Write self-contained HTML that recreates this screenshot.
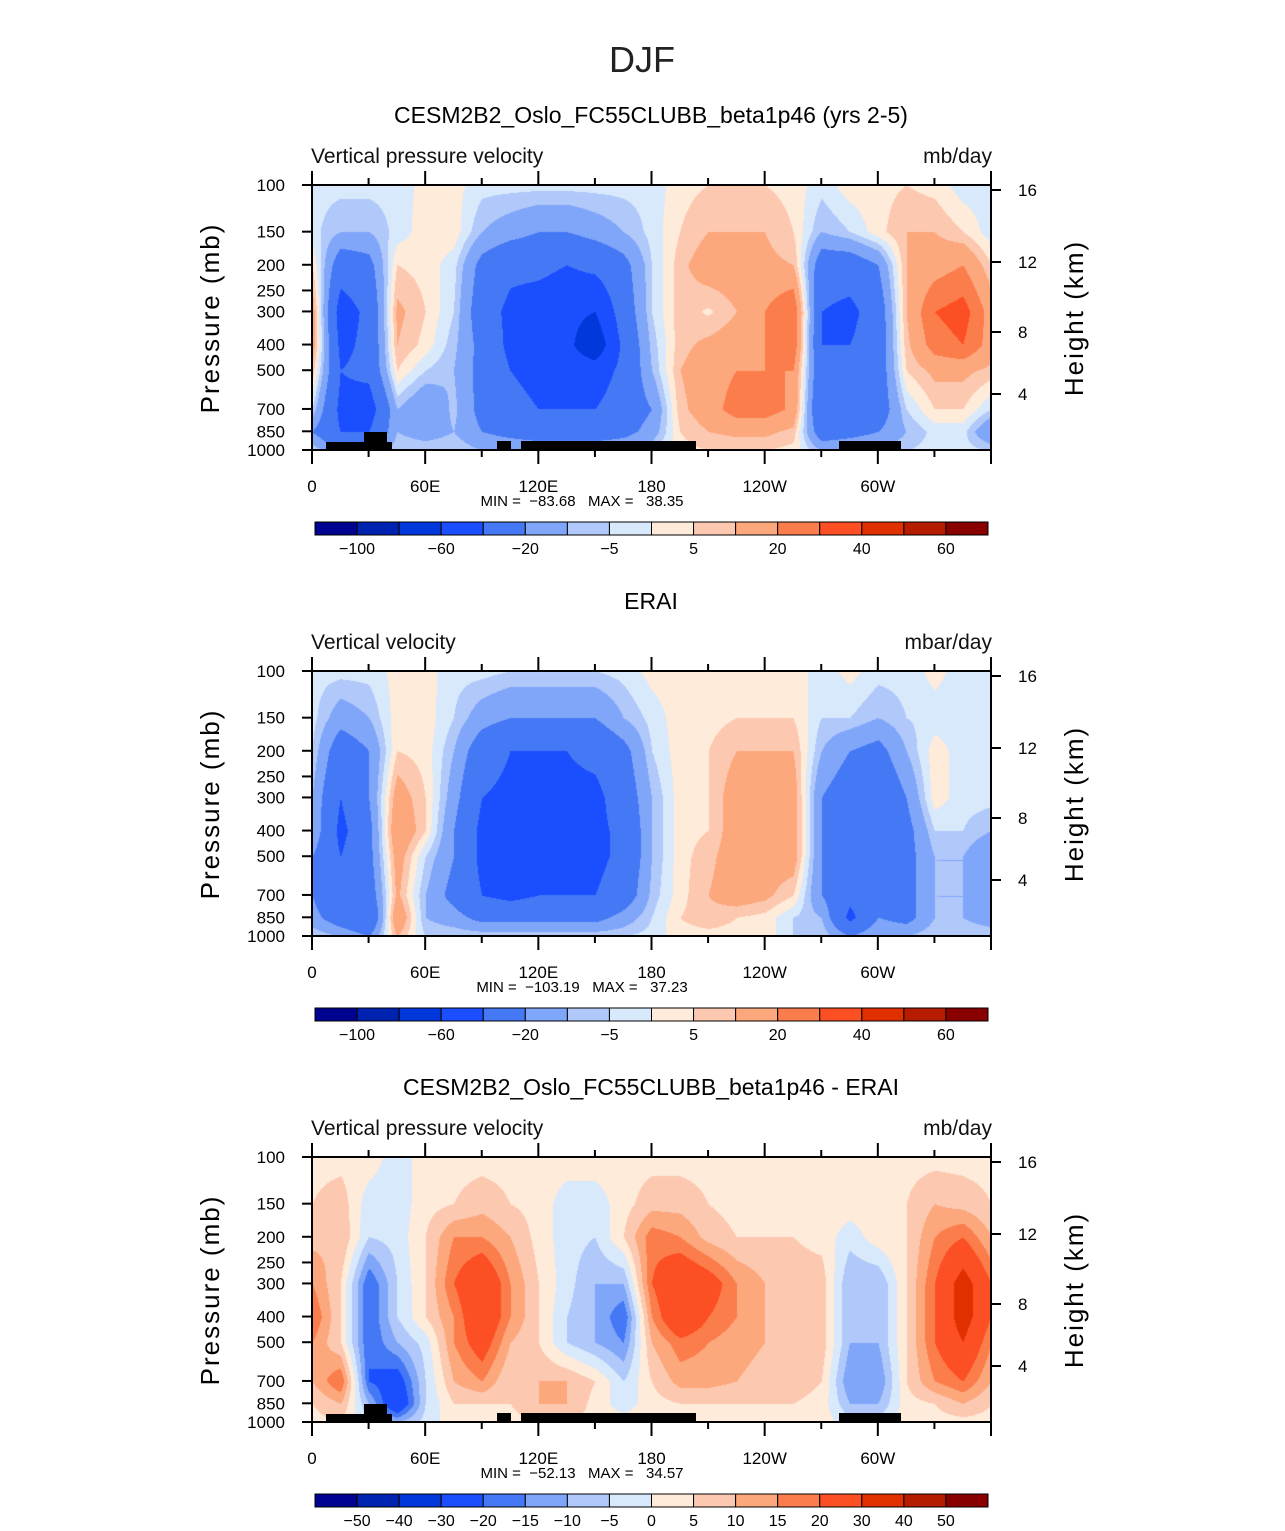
<!DOCTYPE html>
<html><head><meta charset="utf-8">
<style>
body{margin:0;background:#fff;width:1285px;height:1531px;overflow:hidden;font-family:"Liberation Sans",sans-serif}
#root{position:relative;width:1285px;height:1531px}
canvas{position:absolute}
svg{position:absolute;left:0;top:0}
text{white-space:pre}
</style></head>
<body><div id="root">
<canvas id="c0" width="679" height="265" style="left:312px;top:185px"></canvas>
<canvas id="c1" width="679" height="265" style="left:312px;top:671px"></canvas>
<canvas id="c2" width="679" height="265" style="left:312px;top:1157px"></canvas>
<svg id="svg" width="1285" height="1531"></svg>
</div>
<script>
const lons=[0,15,30,45,60,75,90,105,120,135,150,165,180,195,210,225,240,255,270,285,300,315,330,345,360];
const pressures=[100,150,200,300,400,500,700,850,1000];
const colors=["#00038f","#0022b0","#0038db","#1a4eff","#4578f5","#80a6fa","#b0c8fa","#d9e9fc","#ffebd9","#fdc8b0","#fca77c","#fc7d4c","#fc5024","#e03000","#b51c00","#880000"];
const levelsAbs=[-100,-80,-60,-40,-20,-10,-5,0,5,10,20,30,40,50,60];
const levelsDiff=[-50,-40,-30,-20,-15,-10,-5,0,5,10,15,20,30,40,50];
const labelsAbs=["−100","","−60","","−20","","−5","","5","","20","","40","","60"];
const labelsDiff=["−50","−40","−30","−20","−15","−10","−5","0","5","10","15","20","30","40","50"];
const model=[
[-3,-3,-3,-3,2,2,-3,-3,-3,-3,-3,-3,-3,3,5,5,5,3,-3,3,3,5,3,-3,-3],
[-3,-10,-10,-3,3,3,-10,-15,-20,-20,-15,-10,-3,5,10,10,10,5,-10,-5,3,10,10,5,-3],
[5,-30,-25,5,3,-3,-25,-35,-35,-40,-35,-25,-5,8,15,15,12,10,-30,-30,-20,10,15,20,5],
[15,-50,-35,12,5,-5,-30,-45,-50,-55,-60,-30,-5,8,4,10,20,30,-40,-45,-30,10,30,35,15],
[15,-45,-35,10,3,-8,-25,-45,-50,-55,-75,-35,-8,8,12,15,20,28,-40,-40,-30,8,25,30,15],
[8,-40,-35,5,-5,-10,-25,-40,-45,-50,-50,-35,-10,10,15,20,20,20,-35,-35,-30,5,12,12,8],
[-5,-45,-50,-10,-20,-8,-25,-35,-40,-40,-40,-30,-20,8,15,25,25,18,-40,-35,-30,-5,5,5,-5],
[-20,-40,-40,-10,-15,-10,-20,-25,-30,-30,-30,-25,-15,5,10,12,12,8,-30,-25,-20,-10,-3,-3,-20],
[-5,-20,-20,-5,-5,-5,-10,-10,-10,-10,-10,-10,-5,3,5,5,5,3,-10,-10,-10,-5,-3,-3,-5]];
const erai=[
[-3,-3,-3,2,2,-3,-3,-5,-5,-5,-5,-3,2,3,3,3,3,3,-3,2,-3,-3,2,-3,-3],
[-3,-15,-10,3,3,-5,-15,-20,-20,-20,-20,-10,-3,3,3,5,5,5,-5,-5,-10,-5,-3,-3,-3],
[-5,-30,-20,5,3,-10,-30,-40,-40,-40,-35,-25,-5,3,5,10,10,10,-10,-20,-25,-10,3,-3,-3],
[-10,-40,-20,15,5,-15,-40,-45,-45,-45,-45,-30,-10,3,5,15,15,15,-20,-30,-35,-20,3,-3,-3],
[-10,-45,-25,20,5,-20,-45,-50,-45,-50,-45,-35,-10,3,5,15,15,15,-20,-35,-35,-25,-5,-5,-10],
[-20,-40,-25,15,-5,-20,-45,-45,-45,-45,-45,-35,-10,3,8,15,15,15,-20,-30,-30,-25,-10,-10,-20],
[-20,-40,-30,12,-10,-25,-40,-45,-40,-40,-40,-30,-8,3,10,15,12,5,-20,-35,-30,-25,-10,-10,-20],
[-15,-30,-40,20,-10,-15,-25,-25,-25,-25,-25,-15,-5,5,8,5,3,-5,-10,-45,-20,-25,-10,-10,-15],
[-5,-10,-20,10,-5,-5,-5,-5,-5,-5,-5,-5,-3,3,3,3,3,-5,-5,-20,-10,-10,-5,-5,-5]];
const diff=[
[3,3,3,-3,3,3,3,3,3,3,3,3,3,3,3,3,3,3,3,3,3,3,3,3,3],
[5,8,-3,-3,3,5,8,5,3,-3,-3,3,8,8,5,3,3,3,3,3,3,5,10,8,5],
[8,10,-5,-3,5,15,15,10,3,-3,-5,5,18,15,8,5,5,5,3,-3,3,5,15,20,10],
[15,5,-20,-5,5,20,30,15,5,-3,-10,-10,20,30,25,15,10,8,8,-10,-10,5,20,35,20],
[20,5,-20,-5,5,15,30,15,5,-5,-10,-20,15,30,20,15,10,8,8,-10,-10,5,20,35,20],
[15,5,-20,-10,-3,15,25,10,5,-5,-10,-15,10,18,15,12,10,8,8,-10,-10,5,20,30,15],
[10,20,-20,-25,-5,10,15,5,10,10,5,-5,5,12,12,10,8,8,5,-15,-15,5,15,20,10],
[5,10,-10,-30,-5,5,5,5,10,10,3,-3,3,5,5,5,5,5,3,-10,-10,3,5,10,5],
[3,5,-5,-10,-3,3,3,3,5,5,3,3,3,3,3,3,3,3,3,-3,-3,3,3,3,3]];

const W=679,H=265,L=312;
const xOf=lon=>L+lon*W/360;
const yOf=(p,top)=>top+H*Math.log(p/100)/Math.LN10;
function hex(c){return [parseInt(c.substr(1,2),16),parseInt(c.substr(3,2),16),parseInt(c.substr(5,2),16)];}
const rgb=colors.map(hex);
function draw(id,field,levels){
  const ctx=document.getElementById(id).getContext('2d');
  const img=ctx.createImageData(W,H);
  const lp=pressures.map(p=>Math.log(p/100)/Math.LN10*H);
  for(let y=0;y<H;y++){
    let r=0;while(r<pressures.length-2&&lp[r+1]<y)r++;
    const ty=Math.min(1,Math.max(0,(y-lp[r])/(lp[r+1]-lp[r])));
    for(let x=0;x<W;x++){
      const lon=x*360/W;let c=Math.min(lons.length-2,Math.floor(lon/15));
      const tx=(lon-lons[c])/15;
      const v=(field[r][c]*(1-tx)+field[r][c+1]*tx)*(1-ty)+(field[r+1][c]*(1-tx)+field[r+1][c+1]*tx)*ty;
      let k=0;while(k<levels.length&&v>=levels[k])k++;
      const col=rgb[k],i=(y*W+x)*4;
      img.data[i]=col[0];img.data[i+1]=col[1];img.data[i+2]=col[2];img.data[i+3]=255;
    }
  }
  ctx.putImageData(img,0,0);
}
draw('c0',model,levelsAbs);draw('c1',erai,levelsAbs);draw('c2',diff,levelsDiff);

const svg=document.getElementById('svg');const NS='http://www.w3.org/2000/svg';
function el(tag,attrs,txt){const e=document.createElementNS(NS,tag);for(const k in attrs)e.setAttribute(k,attrs[k]);if(txt!==undefined)e.textContent=txt;svg.appendChild(e);return e;}
const t0=el('text',{x:642,y:72,'font-size':36,'text-anchor':'middle',fill:'#222'},'DJF');


const panels=[
 {top:185,title:'CESM2B2_Oslo_FC55CLUBB_beta1p46 (yrs 2-5)',left:'Vertical pressure velocity',right:'mb/day',mm:'MIN =  −83.68   MAX =   38.35',land:true,labels:labelsAbs},
 {top:671,title:'ERAI',left:'Vertical velocity',right:'mbar/day',mm:'MIN =  −103.19   MAX =   37.23',land:false,labels:labelsAbs},
 {top:1157,title:'CESM2B2_Oslo_FC55CLUBB_beta1p46 - ERAI',left:'Vertical pressure velocity',right:'mb/day',mm:'MIN =  −52.13   MAX =   34.57',land:true,labels:labelsDiff}];
const xlabels=['0','60E','120E','180','120W','60W'];
const plabels=[100,150,200,250,300,400,500,700,850,1000];
const hkm=[[16,190],[12,262],[8,332],[4,394]];
const landRects=[[326,442,66,8],[364,432,23,18],[497,441,14,9],[521,441,175,9],[839,441,62,9]];
panels.forEach((P,pi)=>{
  const T=P.top;
  let e=el('text',{x:651,y:T-62,'font-size':23,'text-anchor':'middle',fill:'#000'},P.title);
  
  
  e=el('text',{x:311,y:T-22,'font-size':21,fill:'#111'},P.left);
  
  
  e=el('text',{x:992,y:T-22,'font-size':21,'text-anchor':'end',fill:'#111'},P.right);
  
  
  if(P.land){landRects.forEach(r=>{const rr=el('rect',{x:r[0],y:r[1]-185+T,width:r[2],height:r[3],fill:'#000'});
    
    });}
  e=el('rect',{x:L,y:T,width:W,height:H,fill:'none',stroke:'#000','stroke-width':2});
  
  
  for(let lon=0;lon<=360;lon+=30){
    const x=xOf(lon),major=lon%60===0;
    el('line',{x1:x,x2:x,y1:T,y2:T-(major?14:7),stroke:'#000','stroke-width':2});
    el('line',{x1:x,x2:x,y1:T+H,y2:T+H+(major?14:7),stroke:'#000','stroke-width':2});
  }
  xlabels.forEach((s,i)=>{const t=el('text',{x:xOf(i*60),y:T+H+42,'font-size':17,'text-anchor':'middle'},s);
    
    });
  plabels.forEach(p=>{const y=yOf(p,T);
    el('line',{x1:L,x2:L-10,y1:y,y2:y,stroke:'#000','stroke-width':2});
    const t=el('text',{x:285,y:y+6,'font-size':17,'text-anchor':'end'},String(p));
    
    });
  hkm.forEach(h=>{const y=h[1]-185+T;
    el('line',{x1:L+W,x2:L+W+10,y1:y,y2:y,stroke:'#000','stroke-width':2});
    const t=el('text',{x:1018,y:y+6,'font-size':17},String(h[0]));
    
    });
  e=el('text',{x:0,y:0,'font-size':26,'text-anchor':'middle',transform:`translate(219,${T+133}) rotate(-90)`,'letter-spacing':'2'},'Pressure (mb)');
  
  
  e=el('text',{x:0,y:0,'font-size':26,'text-anchor':'middle',transform:`translate(1083,${T+133}) rotate(-90)`,'letter-spacing':'2'},'Height (km)');
  
  
  e=el('text',{x:582,y:T+321,'font-size':15,'text-anchor':'middle'},P.mm);
  
  
  const cy=T+337,cw=673/16;
  colors.forEach((c,i)=>{const r=el('rect',{x:315+i*cw,y:cy,width:cw,height:13,fill:c,stroke:'#000','stroke-width':1});
    
    });
  P.labels.forEach((s,i)=>{if(!s)return;const t=el('text',{x:315+(i+1)*cw,y:cy+32,'font-size':16,'text-anchor':'middle'},s);
    
    });
});
</script>
</body></html>
